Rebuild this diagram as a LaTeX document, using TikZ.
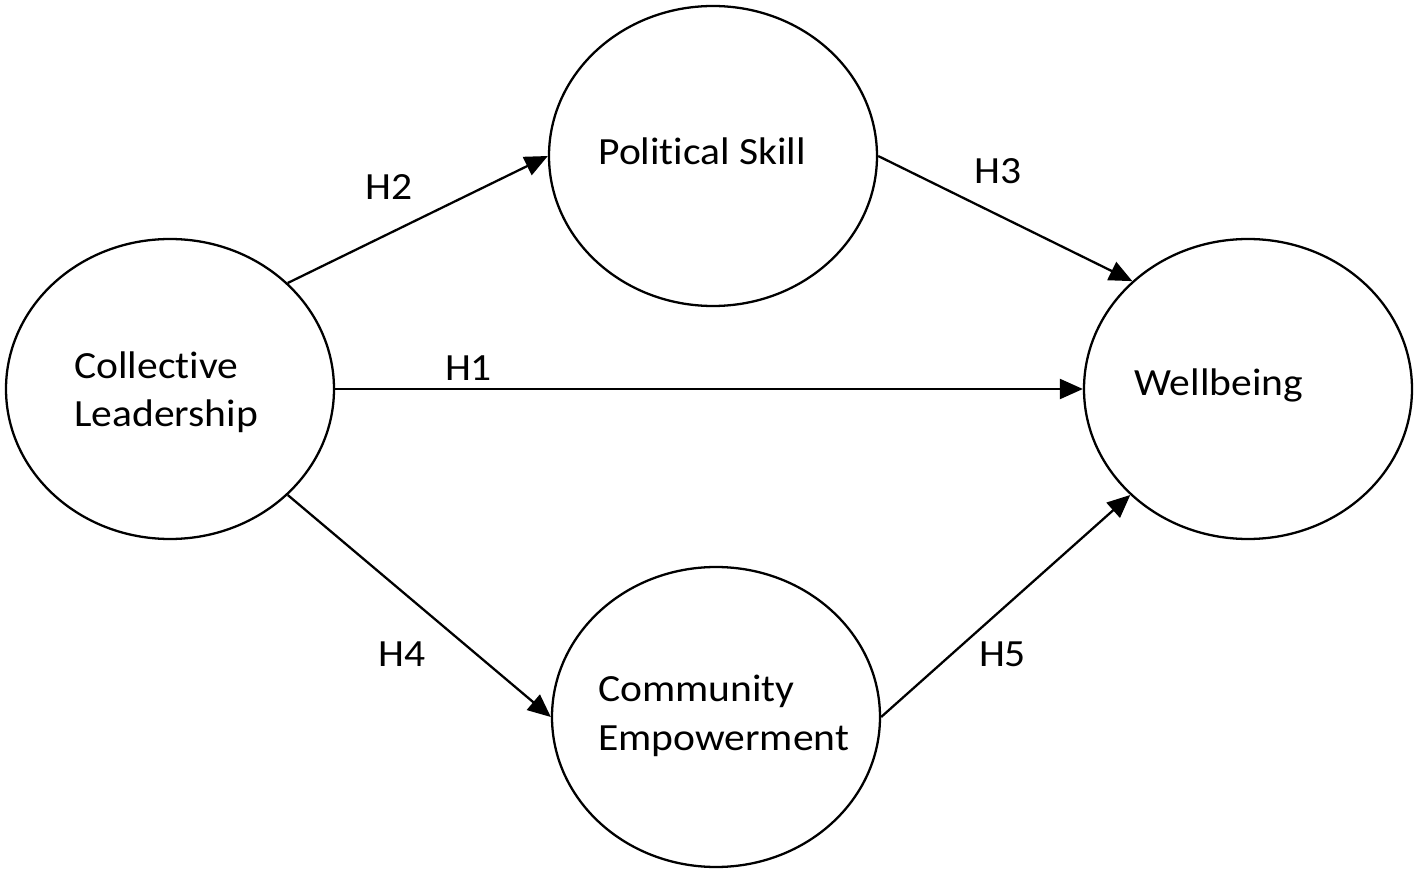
\documentclass[tikz,border=0pt]{standalone}
\usepackage{fontspec}
\setmainfont{Carlito}[FakeStretch=1.08, Ligatures=NoCommon]
\usepackage{tikz}
\usetikzlibrary{arrows.meta,shapes.geometric}

\begin{document}
\begin{tikzpicture}[
  construct/.style = {draw, ellipse, line width = 1.3pt, inner sep = 0pt,
    minimum width = 6.56cm, minimum height = 6cm},
  title/.style = {inner sep = 0pt, align = left, anchor = base west,
    font = \fontsize{21.9}{27.6}\selectfont},
  hyp/.style = {inner sep = 0pt, font = \fontsize{21.9}{27.6}\selectfont},
  link/.style = {line width = 1.3pt, -{Triangle[length = 0.46cm, width = 0.4cm]}}
]
%\draw[very thin, color = gray](0, 0) grid (28, 17);
\useasboundingbox (0, 0) rectangle (28.36, 17.48);
\node [construct] (cl) at (3.40, 9.70) {};
\node [construct] (ps) at (14.26, 14.36) {};
\node [construct] (wb) at (24.96, 9.70) {};
\node [construct] (ce) at (14.32, 3.14) {};
% base of a two-line name is its last line
\node [title] (cl-t) at (1.48, 8.94) {Collective\\Leadership};
\node [title] (ps-t) at (11.96, 14.18) {Political Skill};
\node [title] (wb-t) at (22.68, 9.56) {Wellbeing};
\node [title] (ce-t) at (11.96, 2.48) {Community\\Empowerment};
\draw [link] (cl.0) -- (wb.180);
\draw [link] (cl.42.2) -- (ps.180);
\draw [link] (ps.0) -- (wb.137.3);
\draw [link] (cl.-42.2) -- (ce.180);
\draw [link] (ce.0) -- (wb.222.7);
\node [hyp] (h1) at (9.37, 10.12) {H1};
\node [hyp] (h2) at (7.78, 13.74) {H2};
\node [hyp] (h3) at (19.96, 14.05) {H3};
\node [hyp] (h4) at (8.04, 4.39) {H4};
\node [hyp] (h5) at (20.05, 4.39) {H5};
\end{tikzpicture}
\end{document}
